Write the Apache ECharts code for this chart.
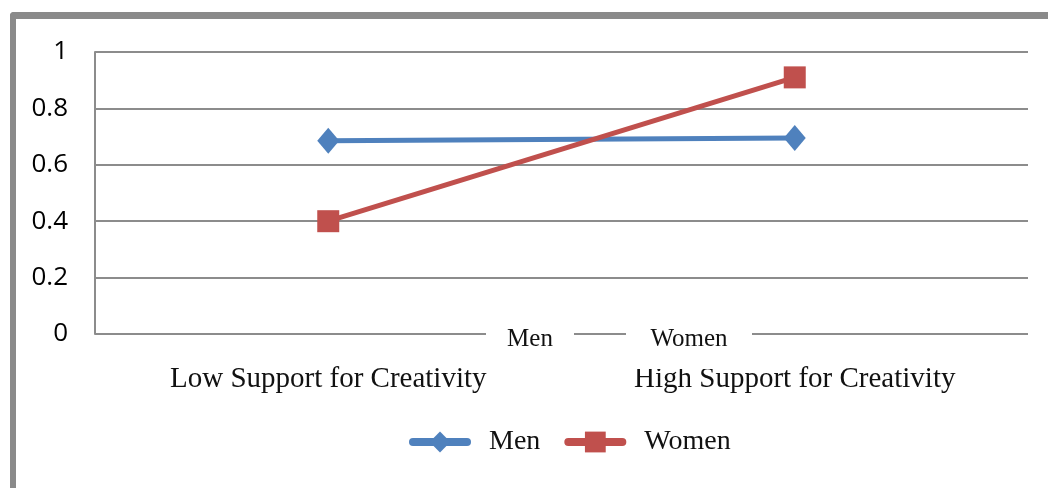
<!DOCTYPE html>
<html>
<head>
<meta charset="utf-8">
<script src="https://cdn.jsdelivr.net/npm/echarts@6/dist/echarts.min.js"></script>
<style>
  html, body { margin: 0; padding: 0; background: #fff; }
  #chart { position: absolute; left: 0; top: 0; width: 1048px; height: 488px; }
  #frame {
    position: absolute; left: 10px; top: 12px; width: 1038px; height: 476px;
    border-top: 7px solid #8a8a8a; border-left: 6px solid #8a8a8a;
    border-top-left-radius: 4px; box-sizing: border-box; pointer-events: none;
  }
</style>
</head>
<body>
<div id="chart"></div>
<div id="frame"></div>
<script>
const categories = ['Low Support for Creativity', 'High Support for Creativity']
const men = [0.685, 0.695]
const women = [0.40, 0.91]
const yTicks = [0, 0.2, 0.4, 0.6, 0.8, 1]

const serif = '"Liberation Serif", "DejaVu Serif", serif'
const gridGray = '#8c8c8c'

const chart = echarts.init(document.getElementById('chart'))
chart.setOption({
  animation: false,
  grid: { left: 95, right: 20, top: 52, bottom: 154 },
  legend: {
    bottom: 27,
    left: 404,
    itemWidth: 54,
    itemHeight: 26,
    itemGap: 24,
    lineStyle: { width: 8, cap: 'round' },
    textStyle: { fontFamily: serif, fontSize: 28, color: '#111', padding: [0, 0, 0, 17] },
    data: ['Men', 'Women']
  },
  xAxis: {
    type: 'category',
    data: categories,
    axisLine: { show: false },
    axisTick: { show: false },
    axisLabel: { fontFamily: serif, fontSize: 29, color: '#111', margin: 31 }
  },
  yAxis: {
    type: 'value',
    min: 0, max: 1, interval: 0.2,
    axisLine: { show: true, lineStyle: { color: gridGray, width: 2 } },
    axisTick: { show: false },
    splitLine: { lineStyle: { color: gridGray, width: 2 } },
    axisLabel: {
      fontFamily: '"Open Sans", "Noto Sans", sans-serif', fontSize: 26, color: '#000', margin: 27,
      formatter: v => yTicks.includes(+v.toFixed(1)) ? String(+v.toFixed(1)) : ''
    }
  },
  series: [
    {
      name: 'Men', type: 'line', data: men,
      symbol: 'diamond', symbolSize: [22, 26],
      lineStyle: { color: '#4f81bd', width: 5 },
      itemStyle: { color: '#4f81bd' }
    },
    {
      name: 'Women', type: 'line', data: women,
      symbol: 'rect', symbolSize: 22,
      lineStyle: { color: '#c0504d', width: 5 },
      itemStyle: { color: '#c0504d' }
    }
  ],
  // stray "Men — Women" label sitting on the baseline in the original
  graphic: [
    { type: 'rect', z: 100, shape: { x: 486, y: 322, width: 88, height: 38 }, style: { fill: '#fff' } },
    { type: 'rect', z: 100, shape: { x: 626, y: 322, width: 126, height: 47 }, style: { fill: '#fff' } },
    { type: 'text', z: 101, x: 530, y: 339, style: { text: 'Men', font: '25px ' + serif, fill: '#111', align: 'center', verticalAlign: 'middle' } },
    { type: 'text', z: 101, x: 689, y: 339, style: { text: 'Women', font: '25px ' + serif, fill: '#111', align: 'center', verticalAlign: 'middle' } }
  ]
})
window.addEventListener('resize', () => chart.resize())
</script>
</body>
</html>
